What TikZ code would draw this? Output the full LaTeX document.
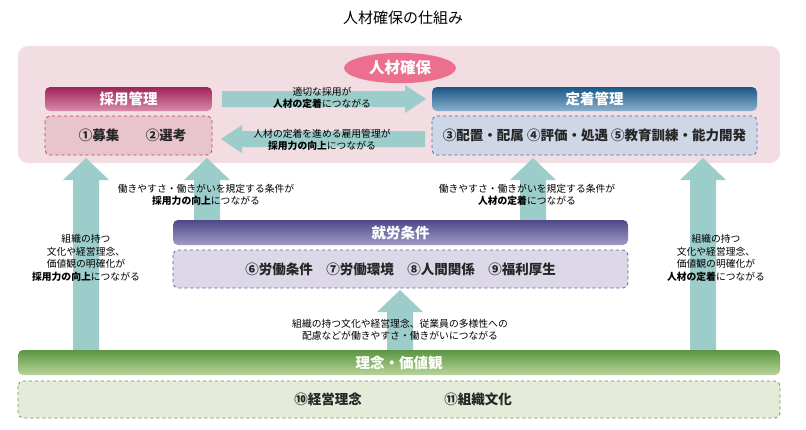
\documentclass[tikz,border=0pt]{standalone}
\usepackage{fontspec}
\setmainfont{Noto Sans CJK JP}
\usetikzlibrary{shapes.geometric}
\definecolor{teal1}{HTML}{9CCDCB}
\definecolor{pinkbg}{HTML}{F2DDE3}
\tikzset{
  arr/.style={fill=teal1, draw=none},
  head/.style={rounded corners=5pt, draw=none},
  itembox/.style={rounded corners=5pt, dashed, line width=0.8pt},
  small/.style={font=\fontsize{9.8}{12.5}\selectfont, align=center, inner sep=1pt},
  htext/.style={text=white, font=\fontsize{14.5}{16}\selectfont\bfseries},
  itext/.style={font=\fontsize{13.5}{15}\selectfont\bfseries, text=black!85}
}
\newcommand{\uparr}[3]{% x, tip y, bottom y
  \fill[arr] (#1-13,#3) -- (#1-13,#2+22) -- (#1-23,#2+22) -- (#1,#2) -- (#1+23,#2+22) -- (#1+13,#2+22) -- (#1+13,#3) -- cycle;}
\begin{document}
\begin{tikzpicture}[x=1pt, y=-1pt]
\useasboundingbox (0,0) rectangle (806,429);
% title
\node[font=\fontsize{15}{17}\selectfont] (title) at (403,18) {人材確保の仕組み};
% background
\fill[pinkbg, rounded corners=10pt] (18,46) rectangle (780,163);
% vertical arrows
\uparr{86}{158}{350}
\uparr{703}{158}{350}
\uparr{207}{158}{221}
\uparr{533}{158}{221}
\uparr{400}{290}{350}
% horizontal arrows
\fill[arr] (222,91) -- (405,91) -- (405,85) -- (426,99) -- (405,113) -- (405,107) -- (222,107) -- cycle;
\fill[arr] (425,131) -- (242,131) -- (242,125) -- (221,139) -- (242,153) -- (242,147) -- (425,147) -- cycle;
\node[small] (t1) at (322,98) {適切な採用が\\\textbf{人材の定着}につながる};
\node[small] (t2) at (322,140) {人材の定着を進める雇用管理が\\\textbf{採用力の向上}につながる};
% ellipse
\node[ellipse, fill={rgb,255:red,236;green,111;blue,143}, minimum width=112pt, minimum height=30pt, htext, font=\fontsize{15.5}{17}\selectfont\bfseries] (kakuho) at (400,68) {人材確保};
% saiyo
\shade[head, top color={rgb,255:red,160;green,35;blue,90}, bottom color={rgb,255:red,215;green,140;blue,170}] (45,87) rectangle (212,111);
\node[htext] (saiyo) at (128.5,99) {採用管理};
\draw[itembox, draw={rgb,255:red,190;green,60;blue,110}, fill={rgb,255:red,232;green,196;blue,205}] (45,116) rectangle (212,155);
\node[itext] (i1) at (99,135.5) {①募集};
\node[itext] (i2) at (166,135.5) {②選考};
% teichaku
\shade[head, top color={rgb,255:red,25;green,88;blue,135}, bottom color={rgb,255:red,140;green,175;blue,205}] (432,87) rectangle (757,111);
\node[htext] (teichaku) at (594.5,99) {定着管理};
\draw[itembox, draw={rgb,255:red,60;green,110;blue,160}, fill={rgb,255:red,207;green,214;blue,230}] (432,116) rectangle (757,155);
\node[itext] (i3) at (594.5,135.5) {③配置・配属 ④評価・処遇 ⑤教育訓練・能力開発};
% labels on arrows
\node[small] (t3) at (206,195) {働きやすさ・働きがいを規定する条件が\\\textbf{採用力の向上}につながる};
\node[small] (t4) at (527,195) {働きやすさ・働きがいを規定する条件が\\\textbf{人材の定着}につながる};
\node[small] (t5) at (86,258) {組織の持つ\\文化や経営理念、\\価値観の明確化が\\\textbf{採用力の向上}につながる};
\node[small] (t6) at (716,258) {組織の持つ\\文化や経営理念、\\価値観の明確化が\\\textbf{人材の定着}につながる};
\node[small] (t7) at (400,330) {組織の持つ文化や経営理念、従業員の多様性への\\配慮などが働きやすさ・働きがいにつながる};
% shuro
\shade[head, top color={rgb,255:red,78;green,72;blue,135}, bottom color={rgb,255:red,160;green,155;blue,200}] (173,220) rectangle (628,245);
\node[htext] (shuro) at (400.5,232.5) {就労条件};
\draw[itembox, draw={rgb,255:red,100;green,90;blue,150}, fill={rgb,255:red,220;green,216;blue,232}] (173,250) rectangle (628,288);
\node[itext] (i6) at (400.5,269) {⑥労働条件\quad ⑦労働環境\quad ⑧人間関係\quad ⑨福利厚生};
% rinen
\shade[head, top color={rgb,255:red,90;green,150;blue,65}, bottom color={rgb,255:red,185;green,212;blue,155}] (18,350) rectangle (780,375);
\node[htext] (rinen) at (399,362.5) {理念・価値観};
\draw[itembox, draw={rgb,255:red,100;green,150;blue,80}, fill={rgb,255:red,228;green,236;blue,217}] (18,381) rectangle (780,418);
\node[itext] (i10) at (328,399.5) {⑩経営理念};
\node[itext] (i11) at (478,399.5) {⑪組織文化};
\end{tikzpicture}
\end{document}
